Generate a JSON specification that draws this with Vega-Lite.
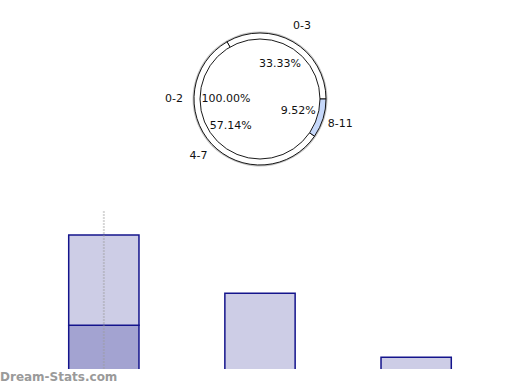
{
  "$schema": "https://vega.github.io/schema/vega-lite/v6.json",
  "padding": 0,
  "spacing": 0,
  "config": {
    "view": {"stroke": null},
    "font": "DejaVu Sans",
    "text": {"font": "DejaVu Sans", "fontSize": 11, "color": "#111111"}
  },
  "datasets": {
    "ring": [
      {"age": "0-3", "share": 0.3333},
      {"age": "4-7", "share": 0.5714},
      {"age": "8-11", "share": 0.0952}
    ],
    "inner": [
      {"age": "0-2", "share": 1.0}
    ],
    "bars": [
      {"age": "4-7", "part": "a", "value": 4.83},
      {"age": "4-7", "part": "b", "value": 7.92},
      {"age": "0-3", "part": "b", "value": 7.64},
      {"age": "8-11", "part": "b", "value": 2.03}
    ],
    "marker": [
      {"age": "4-7", "lo": 0, "hi": 14.95}
    ]
  },
  "vconcat": [
    {
      "width": 520,
      "height": 198,
      "layer": [
        {
          "data": {"name": "inner"},
          "mark": {"type": "arc", "outerRadius": 67.5, "fill": "#8a8a8a", "opacity": 0.5},
          "encoding": {
            "theta": {"field": "share", "type": "quantitative", "stack": true, "scale": {"range": [1.5708, -4.7124]}}
          }
        },
        {
          "data": {"name": "ring"},
          "mark": {"type": "arc", "outerRadius": 66, "stroke": "#000000", "strokeWidth": 0.9},
          "encoding": {
            "theta": {"field": "share", "type": "quantitative", "stack": true, "scale": {"range": [1.5708, -4.7124]}},
            "order": {"field": "age", "type": "ordinal"},
            "color": {"field": "age", "type": "nominal", "legend": null, "scale": {"domain": ["0-3", "4-7", "8-11"], "range": ["#ffffff", "#ffffff", "#c6d8fa"]}}
          }
        },
        {
          "data": {"name": "ring"},
          "mark": {"type": "text", "radius": 84},
          "encoding": {
            "theta": {"field": "share", "type": "quantitative", "stack": true, "scale": {"range": [1.5708, -4.7124]}},
            "order": {"field": "age", "type": "ordinal"},
            "text": {"field": "age", "type": "nominal"}
          }
        },
        {
          "data": {"name": "inner"},
          "mark": {"type": "arc", "outerRadius": 60, "fill": "#ffffff", "stroke": "#000000", "strokeWidth": 0.9},
          "encoding": {
            "theta": {"field": "share", "type": "quantitative", "stack": true, "scale": {"range": [1.5708, -4.7124]}}
          }
        },
        {
          "data": {"name": "inner"},
          "mark": {"type": "text", "radius": 86},
          "encoding": {
            "theta": {"field": "share", "type": "quantitative", "stack": true, "scale": {"range": [1.5708, -4.7124]}},
            "text": {"field": "age", "type": "nominal"}
          }
        },
        {
          "data": {"name": "inner"},
          "mark": {"type": "text", "radius": 34},
          "encoding": {
            "theta": {"field": "share", "type": "quantitative", "stack": true, "scale": {"range": [1.5708, -4.7124]}},
            "text": {"field": "share", "type": "quantitative", "format": ".2%"}
          }
        },
        {
          "data": {"name": "ring"},
          "mark": {"type": "text", "radius": 40},
          "encoding": {
            "theta": {"field": "share", "type": "quantitative", "stack": true, "scale": {"range": [1.5708, -4.7124]}},
            "order": {"field": "age", "type": "ordinal"},
            "text": {"field": "share", "type": "quantitative", "format": ".2%"}
          }
        }
      ],
      "resolve": {"scale": {"theta": "independent", "color": "independent"}}
    },
    {
      "width": 520,
      "height": 171,
      "title": {
        "text": "Dream-Stats.com",
        "orient": "bottom",
        "anchor": "start",
        "offset": 3,
        "fontSize": 12,
        "fontWeight": "bold",
        "color": "#9a9a9a",
        "font": "DejaVu Sans"
      },
      "layer": [
        {
          "data": {"name": "bars"},
          "mark": {"type": "bar", "clip": true, "stroke": "#14148c", "strokeWidth": 1.5},
          "encoding": {
            "x": {"field": "age", "type": "nominal", "sort": null, "axis": null, "scale": {"paddingInner": 0.55, "paddingOuter": 0.44}},
            "y": {"field": "value", "type": "quantitative", "stack": "zero", "axis": null, "scale": {"domain": [1, 16], "nice": false, "zero": false}},
            "order": {"field": "part", "type": "ordinal"},
            "color": {"field": "part", "type": "nominal", "legend": null, "scale": {"domain": ["a", "b"], "range": ["#a3a3d1", "#cdcde6"]}}
          }
        },
        {
          "data": {"name": "marker"},
          "mark": {"type": "rule", "clip": true, "color": "#9a9a9a", "strokeWidth": 2, "strokeDash": [1, 2], "opacity": 0.8},
          "encoding": {
            "x": {"field": "age", "type": "nominal", "sort": null, "axis": null},
            "y": {"field": "lo", "type": "quantitative"},
            "y2": {"field": "hi"}
          }
        }
      ]
    }
  ]
}
